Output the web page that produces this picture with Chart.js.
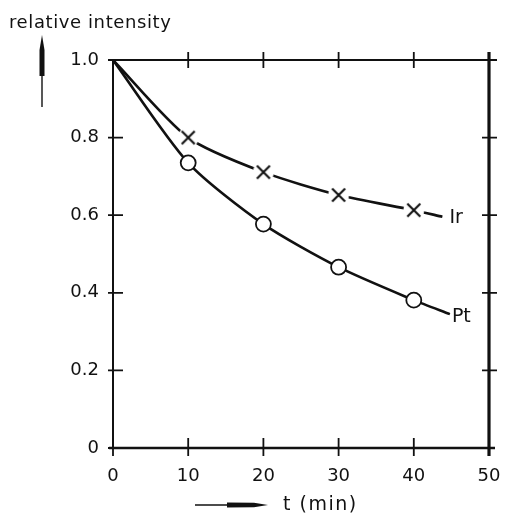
<!DOCTYPE html>
<html>
<head>
<meta charset="utf-8">
<script src="https://cdn.jsdelivr.net/npm/chart.js@4/dist/chart.umd.min.js"></script>
<style>
  body { margin: 0; background: #fff; }
</style>
</head>
<body>
<canvas id="myChart" width="505" height="514"></canvas>
<script>

// data
const times = [0, 10, 20, 30, 40];
const ptValues = [1.0, 0.735, 0.577, 0.466, 0.381];
const irValues = [1.0, 0.80, 0.711, 0.652, 0.613];
const ptEnd = [44.8, 0.345];   // where the drawn Pt curve stops
const irEnd = [43.8, 0.596];   // where the drawn Ir curve stops
const xTickLabels = ['0', '10', '20', '30', '40', '50'];
const yTickLabels = ['0', '0.2', '0.4', '0.6', '0.8', '1.0'];

const ink = '#111';
const font = "'DejaVu Sans', sans-serif";

// X marker with white patch so the line breaks around it
const cross = document.createElement('canvas');
cross.width = 24; cross.height = 24;
(function () {
    const c = cross.getContext('2d');
    c.fillStyle = '#fff';
    c.beginPath(); c.arc(12, 12, 10.5, 0, Math.PI * 2); c.fill();
    c.strokeStyle = ink; c.lineWidth = 2.1;
    c.beginPath();
    c.moveTo(5.5, 5.5); c.lineTo(18.5, 18.5);
    c.moveTo(18.5, 5.5); c.lineTo(5.5, 18.5);
    c.stroke();
})();

function series(xs, ys, end) {
    const pts = xs.map((x, i) => ({ x: x, y: ys[i] }));
    pts.push({ x: end[0], y: end[1] });
    return pts;
}
function radii(n) {
    return Array.from({ length: n + 1 }, (_, i) => (i === 0 || i === n) ? 0 : 7.5);
}

// frame, ticks, axis captions, curve labels
const decor = {
    id: 'decor',
    beforeDatasetsDraw(chart) {
        const { ctx, chartArea: a, scales: { x, y } } = chart;
        ctx.save();
        ctx.strokeStyle = ink;
        ctx.lineCap = 'butt';
        // frame
        ctx.lineWidth = 2;
        ctx.beginPath();
        ctx.moveTo(a.left, a.top); ctx.lineTo(a.right + 8, a.top);
        ctx.moveTo(a.left, a.top - 1); ctx.lineTo(a.left, a.bottom);
        ctx.stroke();
        ctx.lineWidth = 2.4;
        ctx.beginPath();
        ctx.moveTo(a.left - 4, a.bottom); ctx.lineTo(a.right + 6, a.bottom);
        ctx.stroke();
        ctx.lineWidth = 3.2;
        ctx.beginPath();
        ctx.moveTo(a.right, a.top - 8); ctx.lineTo(a.right, a.bottom + 8);
        ctx.stroke();
        // ticks
        ctx.lineWidth = 1.8;
        ctx.beginPath();
        x.ticks.forEach(t => {
            const px = x.getPixelForValue(t.value);
            ctx.moveTo(px, a.bottom - 10); ctx.lineTo(px, a.bottom + 8);
            if (t.value > 0 && t.value < 50) {
                ctx.moveTo(px, a.top - 8); ctx.lineTo(px, a.top + 8);
            }
        });
        y.ticks.forEach(t => {
            const py = y.getPixelForValue(t.value);
            ctx.moveTo(a.left - 5, py); ctx.lineTo(a.left + 10, py);
            if (t.value > 0.01 && t.value < 0.99) {
                ctx.moveTo(a.right - 7, py); ctx.lineTo(a.right + 8, py);
            }
        });
        ctx.stroke();
        ctx.restore();
    },
    afterDraw(chart) {
        const { ctx, scales: { x, y } } = chart;
        ctx.save();
        ctx.fillStyle = ink;
        ctx.strokeStyle = ink;
        ctx.textAlign = 'left';
        ctx.letterSpacing = '0.6px';
        ctx.font = '18px ' + font;
        ctx.textBaseline = 'alphabetic';
        ctx.fillText('relative intensity', 9, 28);
        ctx.letterSpacing = '1.5px';
        ctx.font = '19px ' + font;
        ctx.textBaseline = 'middle';
        ctx.fillText('t (min)', 283, 505);
        // curve labels
        ctx.letterSpacing = '0px';
        ctx.font = '19px ' + font;
        ctx.fillText('Ir', x.getPixelForValue(irEnd[0]) + 7, y.getPixelForValue(irEnd[1]) + 1);
        ctx.fillText('Pt', x.getPixelForValue(ptEnd[0]) + 2, y.getPixelForValue(ptEnd[1]) + 3);
        // x arrow
        ctx.lineWidth = 1.4;
        ctx.beginPath(); ctx.moveTo(195, 505); ctx.lineTo(229, 505); ctx.stroke();
        ctx.beginPath();
        ctx.moveTo(227, 502.5); ctx.lineTo(254, 502.8); ctx.lineTo(268, 505);
        ctx.lineTo(254, 507.2); ctx.lineTo(227, 507.5); ctx.closePath(); ctx.fill();
        // y arrow
        ctx.beginPath(); ctx.moveTo(42, 107); ctx.lineTo(42, 74); ctx.stroke();
        ctx.beginPath();
        ctx.moveTo(39.5, 76); ctx.lineTo(39.5, 50); ctx.lineTo(42, 35);
        ctx.lineTo(44.5, 50); ctx.lineTo(44.5, 76); ctx.closePath(); ctx.fill();
        ctx.restore();
    }
};

const ctx = document.getElementById('myChart').getContext('2d');
const myChart = new Chart(ctx, {
    type: 'line',
    data: {
        datasets: [{
            label: 'Ir',
            data: series(times, irValues, irEnd),
            borderColor: ink,
            borderWidth: 2.6,
            pointStyle: cross,
            pointRadius: radii(times.length),
            tension: 0.25,
            fill: false
        }, {
            label: 'Pt',
            data: series(times, ptValues, ptEnd),
            borderColor: ink,
            borderWidth: 2.6,
            pointStyle: 'circle',
            pointRadius: radii(times.length),
            pointBackgroundColor: '#fff',
            pointBorderColor: ink,
            pointBorderWidth: 1.8,
            tension: 0.25,
            fill: false
        }]
    },
    options: {
        responsive: false,
        animation: false,
        devicePixelRatio: 1,
        layout: { padding: { top: 60, right: 16, left: 0, bottom: 0 } },
        scales: {
            x: {
                type: 'linear',
                min: 0, max: 50,
                grid: { display: false },
                border: { display: false },
                afterFit: s => {
                    s.height = 66;
                    s.paddingLeft = 0;
                    s.paddingRight = 0;
                },
                ticks: {
                    stepSize: 10,
                    padding: 10,
                    color: ink,
                    font: { family: font, size: 18 },
                    callback: (v, i) => xTickLabels[i]
                }
            },
            y: {
                min: 0, max: 1,
                grid: { display: false },
                border: { display: false },
                afterFit: s => { s.width = 113; },
                ticks: {
                    stepSize: 0.2,
                    padding: 6,
                    color: ink,
                    font: { family: font, size: 18 },
                    callback: (v, i) => yTickLabels[i]
                }
            }
        },
        plugins: {
            legend: { display: false },
            tooltip: { enabled: false }
        }
    },
    plugins: [decor]
});
</script>
</body>
</html>
